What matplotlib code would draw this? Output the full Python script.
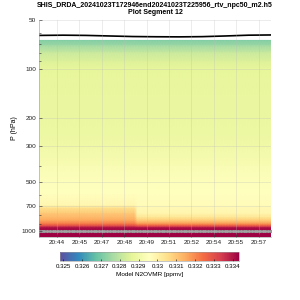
import numpy as np
import matplotlib
matplotlib.use("Agg")
import matplotlib.pyplot as plt

plt.rcParams["font.family"] = ["Liberation Sans", "DejaVu Sans"]

# profile times (minutes after 20:00) and surface pressure
t_start, t_end, n_prof = 42.93, 57.95, 86
split_time = 49.28
psurf = 1004.0

# model N2O profiles (ppmv) on pressure levels (hPa)
levels = [67, 72, 80, 90, 100, 150, 200, 300, 400, 500, 600, 700,
          725, 785, 830, 857, 880, 907, 920, 934, 947, 960, 1000, 1100]
n2o_left = [0.3271, 0.3275, 0.3282, 0.3285, 0.3287, 0.3288, 0.3288, 0.3290,
            0.3293, 0.3295, 0.3296, 0.3299, 0.3305, 0.3310, 0.3313, 0.3315,
            0.3318, 0.3322, 0.3326, 0.3330, 0.3336, 0.3341, 0.3346, 0.3346]
n2o_right = [0.3271, 0.3275, 0.3282, 0.3285, 0.3287, 0.3288, 0.3288, 0.3290,
             0.3293, 0.3295, 0.3296, 0.3297, 0.3298, 0.3299, 0.3304, 0.3308,
             0.3312, 0.3318, 0.3322, 0.3328, 0.3334, 0.3341, 0.3346, 0.3346]

# black line near the top
line_t = [42.93, 44.5, 46.0, 47.5, 49.0, 50.5, 52.0, 53.5, 55.0, 56.5, 57.95]
line_p = [62.4, 62.2, 62.4, 62.9, 63.4, 63.6, 63.7, 63.5, 62.9, 62.2, 62.0]

tick_t = [44.1, 45.55, 47.0, 48.45, 49.9, 51.35, 52.8, 54.25, 55.7, 57.15]
tick_lbl = ["20:44", "20:45", "20:47", "20:48", "20:49", "20:51", "20:52",
            "20:54", "20:55", "20:57"]
p_ticks = [50, 100, 200, 300, 500, 700, 1000]
cb_ticks = [0.325, 0.326, 0.327, 0.328, 0.329, 0.33, 0.331, 0.332, 0.333, 0.334]
vmin, vmax = 0.32482, 0.33434

times = np.linspace(t_start, t_end, n_prof)
Z = np.where(times[None, :] < split_time,
             np.array(n2o_left)[:, None], np.array(n2o_right)[:, None])

fig = plt.figure(figsize=(3, 3), dpi=100)
ax = fig.add_axes([0.13, 0.21, 0.773, 0.724])
mesh = ax.pcolormesh(times, levels, Z, shading="gouraud", cmap="Spectral_r",
                     vmin=vmin, vmax=vmax)
ax.plot(line_t, line_p, color="black", lw=1.2)
ax.plot(times, np.full(n_prof, psurf), color="#999999", ls=":", lw=0.8,
        marker="s", ms=1.2, mec="#999999", mfc="#999999")

ax.set_yscale("log")
ax.set_ylim(1090, 50)
ax.set_xlim(t_start, t_end)
ax.set_yticks(p_ticks)
ax.set_yticklabels([str(p) for p in p_ticks])
ax.yaxis.set_minor_formatter(matplotlib.ticker.NullFormatter())
ax.set_xticks(tick_t)
ax.set_xticklabels(tick_lbl)
ax.tick_params(which="both", direction="in", labelsize=4.6, colors="#222222",
               length=2, width=0.4, pad=2)
ax.tick_params(which="minor", length=1.2)
ax.grid(True, which="major", color="#bbbbbb", lw=0.4, alpha=0.5)
ax.set_axisbelow(False)
for s in ["top", "right"]:
    ax.spines[s].set_visible(False)
for s in ["left", "bottom"]:
    ax.spines[s].set_color("#999999")
    ax.spines[s].set_linewidth(0.4)
ax.set_ylabel("P (hPa)", fontsize=5, labelpad=3)
ax.set_title("SHIS_DRDA_20241023T172946end20241023T225956_rtv_npc50_m2.h5\n"
             "Plot Segment 12", fontsize=5.0, fontweight="bold", pad=4,
             linespacing=1.1)

cax = fig.add_axes([0.2, 0.13, 0.597, 0.03])
cb = fig.colorbar(mesh, cax=cax, orientation="horizontal", ticks=cb_ticks)
cb.ax.set_xticklabels([f"{v:g}" for v in cb_ticks])
cb.ax.tick_params(labelsize=4.4, length=1.5, width=0.4, direction="in", pad=2)
cb.outline.set_linewidth(0.4)
cb.outline.set_edgecolor("#999999")
cb.set_label("Model N2OVMR [ppmv]", fontsize=4.6, labelpad=2)

fig.savefig("out.png", dpi=100)
